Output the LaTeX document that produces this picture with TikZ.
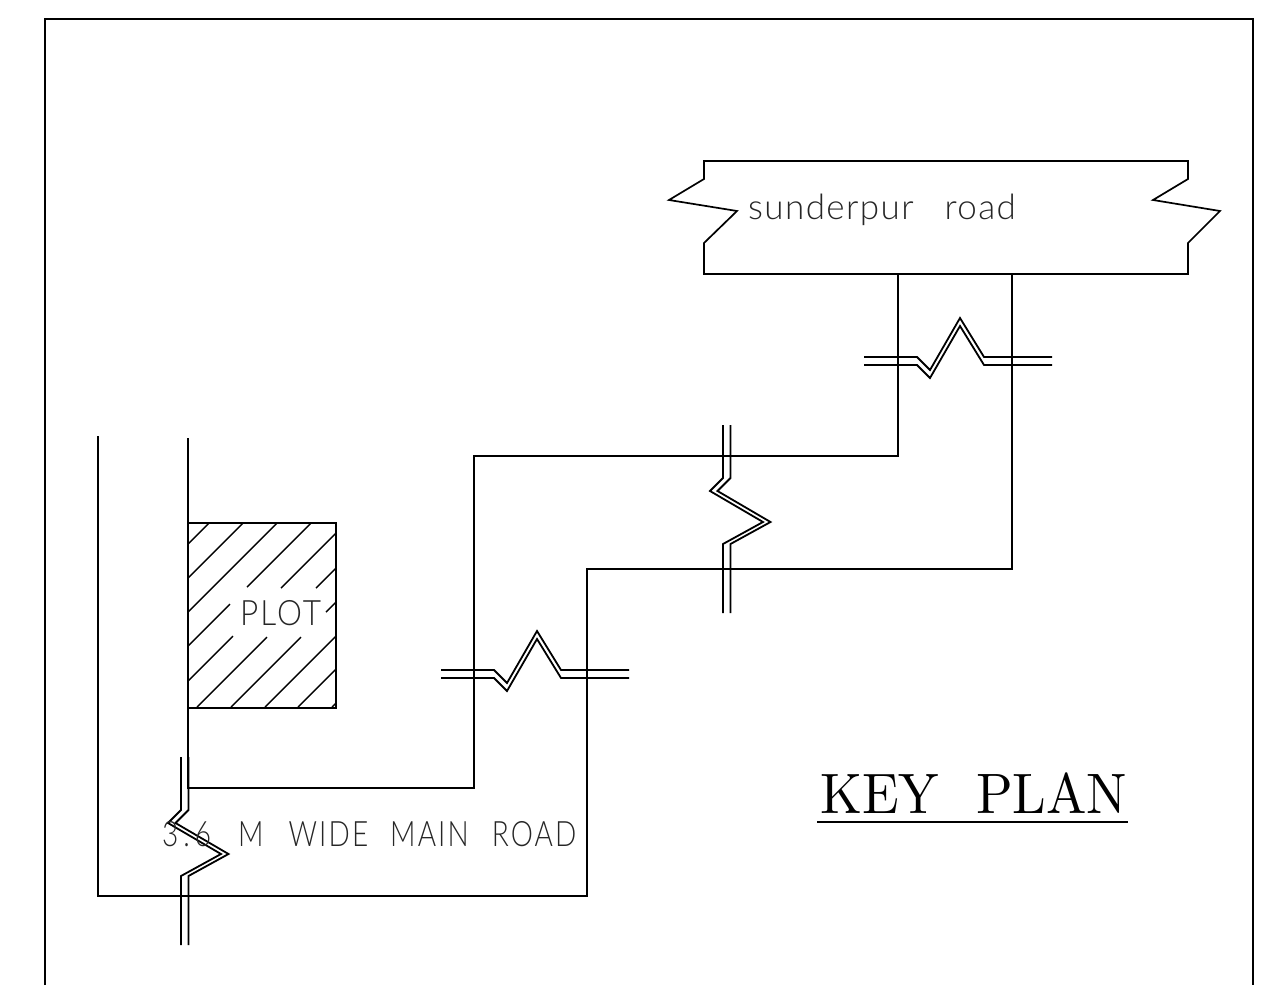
\documentclass[tikz,border=0pt]{standalone}
\usepackage{fontspec}
\newfontfamily\cadfont[LetterSpace=6,FakeStretch=0.8]{Lato Light}
\newfontfamily\cadplot[LetterSpace=6,FakeStretch=0.9]{Lato Light}
\newfontfamily\cadlower[LetterSpace=4]{Lato Light}
\newfontfamily\keyfont[Extension=.otf,FakeStretch=0.945]{lmroman10-regular}
\begin{document}
\begin{tikzpicture}[
      x=1pt, y=-1pt,
      roadline/.style={line width=1.7pt, line join=miter},
      hatchline/.style={line width=1.4pt},
      breakline/.style={line width=1.8pt, line join=miter},
      cadtext/.style={anchor=base west, inner sep=0pt, font=\fontsize{35}{36}\selectfont\cadfont, text=black!85}
    ]
      \useasboundingbox (0,0) rectangle (1271,985);
      % frame
      \draw[roadline] (45,985) -- (45,19) -- (1253,19) -- (1253,985);
      % sunderpur road
      \draw[roadline] (704,161) -- (1188,161) -- (1188,179) -- (1153,200) -- (1220,211)
        -- (1188,243) -- (1188,274) -- (704,274) -- (704,243) -- (737,211)
        -- (669,200) -- (704,179) -- cycle;
      % road edges
      \draw[roadline] (98,436) -- (98,896) -- (587,896) -- (587,569) -- (1012,569) -- (1012,274);
      \draw[roadline] (188,438) -- (188,788) -- (474,788) -- (474,456) -- (898,456) -- (898,274);
      % plot
      \draw[roadline] (188,523) rectangle (336,708);
      \foreach \xa/\ya/\xb/\yb in {188/544/209/523, 188/578/243/523, 188/612/277/523,
        188/646/230/604, 247/587/311/523, 188/681/233/636, 281/588/336/533,
        197/707/267/637, 316/588/336/568, 231/707/301/637, 326/612/336/602,
        265/707/336/636, 298/707/336/669, 332/707/336/703} {
        \draw[hatchline] (\xa,\ya) -- (\xb,\yb);
      }
      % breaks across the road
      \foreach \sx/\sy in {0/0, 423/-313} {
        \foreach \off in {0,8} {
          \draw[breakline, shift={(\sx,\sy+\off)}] (441,670) -- (494,670) -- (507,683)
            -- (537,631) -- (561,670) -- (629,670);
        }
      }
      \foreach \sx/\sy in {0/0, -542/332} {
        \foreach \off in {0,7.5} {
          \draw[breakline, shift={(\sx+\off,\sy)}] (723,425) -- (723,478) -- (710,491)
            -- (763,522) -- (723,544) -- (723,613);
        }
      }
      % labels
      \node[cadtext, font=\fontsize{35}{36}\selectfont\cadplot] (plotlabel) at (240,625) {PLOT};
      \node[cadtext] (mainroad) at (162,846) {3\hspace{5pt}.\hspace{5pt}6\hspace{27pt}M\hspace{25pt}WIDE\hspace{22pt}MAIN\hspace{23pt}ROAD};
      \node[cadtext, font=\fontsize{35}{36}\selectfont\cadlower] (sunderpur) at (748,219) {sunderpur\hspace{31pt}road};
      \node[anchor=base west, inner sep=0pt, font=\fontsize{57}{60}\selectfont\keyfont] (keyplan) at (820,813) {KEY\hspace{37pt}PLAN};
      \draw[roadline] (817,822) -- (1128,822);
    \end{tikzpicture}
\end{document}
